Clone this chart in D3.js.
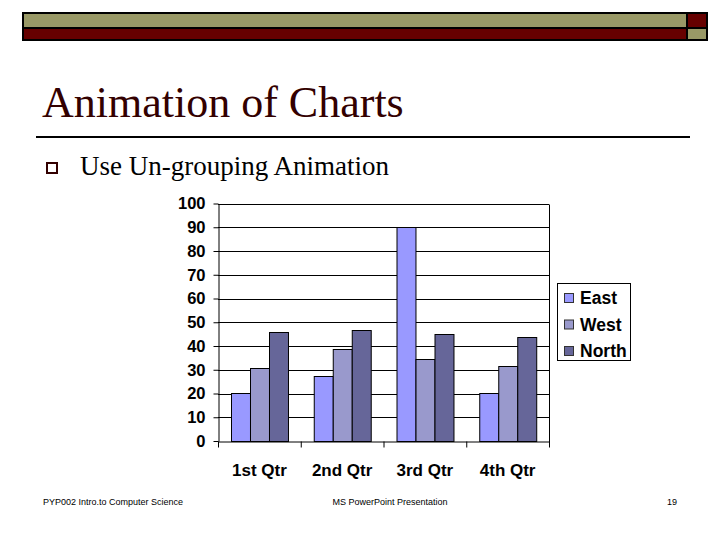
<!DOCTYPE html>
<html>
<head>
<meta charset="utf-8">
<script src="https://cdn.jsdelivr.net/npm/d3@7/dist/d3.min.js"></script>
<style>
  html, body { margin: 0; padding: 0; background: #fff; }
  svg { display: block; }
</style>
</head>
<body>
<div id="slide"></div>
<script>
// ── data ─────────────────────────────────────────
const quarters = ['1st Qtr', '2nd Qtr', '3rd Qtr', '4th Qtr'];
const seriesNames = ['East', 'West', 'North'];
const eastValues  = [20.4, 27.4, 90, 20.4];
const westValues  = [30.6, 38.6, 34.6, 31.6];
const northValues = [45.9, 46.9, 45, 43.9];
const yTicks = [0, 10, 20, 30, 40, 50, 60, 70, 80, 90, 100];

const OLIVE   = '#999966';
const MAROON  = '#660000';
const TITLE_C = '#330000';
const COLORS  = ['#9999FF', '#9999CC', '#666699'];

const W = 720, H = 540;
const svg = d3.select('#slide').append('svg')
  .attr('width', W).attr('height', H)
  .attr('viewBox', `0 0 ${W} ${H}`);

// ── slide decoration ──────────────────────────────
const deco = svg.append('g').attr('stroke', '#000').attr('stroke-width', 2);
deco.append('rect').attr('x', 23).attr('y', 13).attr('width', 664).attr('height', 15).attr('fill', OLIVE);
deco.append('rect').attr('x', 687).attr('y', 13).attr('width', 20).attr('height', 15).attr('fill', MAROON);
deco.append('rect').attr('x', 23).attr('y', 28).attr('width', 664).attr('height', 12).attr('fill', MAROON);
deco.append('rect').attr('x', 687).attr('y', 28).attr('width', 20).attr('height', 12).attr('fill', OLIVE);

svg.append('text')
  .attr('x', 42).attr('y', 117)
  .attr('font-family', '"Liberation Serif", "Times New Roman", serif')
  .attr('font-size', 44)
  .attr('fill', TITLE_C)
  .text('Animation of Charts');

svg.append('line')
  .attr('x1', 36).attr('x2', 690).attr('y1', 137).attr('y2', 137)
  .attr('stroke', '#000').attr('stroke-width', 2);

svg.append('rect')
  .attr('x', 47).attr('y', 163).attr('width', 10).attr('height', 10)
  .attr('fill', 'none').attr('stroke', TITLE_C).attr('stroke-width', 2);

svg.append('text')
  .attr('x', 80).attr('y', 175)
  .attr('font-family', '"Liberation Serif", "Times New Roman", serif')
  .attr('font-size', 27)
  .attr('fill', '#000')
  .text('Use Un-grouping Animation');

// ── chart ─────────────────────────────────────────
const plot = { left: 218, right: 549, top: 203.5, bottom: 441 };

const x = d3.scaleBand().domain(quarters).range([plot.left, plot.right]).paddingInner(0).paddingOuter(0);
const xs = d3.scaleBand().domain(seriesNames).range([0, x.bandwidth()]).paddingInner(0).paddingOuter(0.68);
const y = d3.scaleLinear().domain([0, 100]).range([plot.bottom, plot.top]);

const chart = svg.append('g');

// gridlines
chart.append('g')
  .selectAll('line')
  .data(yTicks.filter(d => d > 0))
  .join('line')
    .attr('x1', plot.left).attr('x2', plot.right)
    .attr('y1', d => Math.round(y(d)) + 0.5).attr('y2', d => Math.round(y(d)) + 0.5)
    .attr('stroke', '#000').attr('stroke-width', 1);

// right border of plot area
chart.append('line')
  .attr('x1', plot.right + 0.5).attr('x2', plot.right + 0.5)
  .attr('y1', Math.round(plot.top) + 0.5).attr('y2', plot.bottom + 6)
  .attr('stroke', '#000');

// bars
const rows = quarters.map((q, i) => ({
  q, vals: [eastValues[i], westValues[i], northValues[i]]
}));

chart.append('g')
  .selectAll('g')
  .data(rows)
  .join('g')
    .attr('transform', d => `translate(${x(d.q)},0)`)
  .selectAll('rect')
  .data(d => d.vals.map((v, j) => ({ name: seriesNames[j], v, j })))
  .join('rect')
    .attr('x', d => Math.round(xs(d.name)) + 0.5)
    .attr('y', d => Math.round(y(d.v)) + 0.5)
    .attr('width', xs.bandwidth())
    .attr('height', d => plot.bottom - Math.round(y(d.v)))
    .attr('fill', d => COLORS[d.j])
    .attr('stroke', '#000').attr('stroke-width', 1);

// y axis
const yAxis = chart.append('g')
  .attr('transform', `translate(${plot.left + 0.5},0)`)
  .call(d3.axisLeft(y).tickValues(yTicks).tickSize(5).tickPadding(8).tickSizeOuter(0));
yAxis.select('.domain').attr('stroke', '#000');
yAxis.selectAll('.tick line').attr('stroke', '#000');
yAxis.selectAll('.tick text')
  .attr('font-family', '"Liberation Sans", Arial, sans-serif')
  .attr('font-weight', 'bold')
  .attr('font-size', 16.5)
  .attr('fill', '#000');

// x axis
const xAxis = chart.append('g')
  .attr('transform', `translate(0,${plot.bottom + 0.5})`)
  .call(d3.axisBottom(x).tickSize(0).tickPadding(22).tickSizeOuter(0));
xAxis.select('.domain').attr('stroke', '#000');
xAxis.selectAll('.tick text')
  .attr('font-family', '"Liberation Sans", Arial, sans-serif')
  .attr('font-weight', 'bold')
  .attr('font-size', 17)
  .attr('fill', '#000');
xAxis.append('g')
  .selectAll('line')
  .data(quarters.concat(['end']))
  .join('line')
    .attr('x1', d => (d === 'end' ? plot.right : x(d)) + 0.5)
    .attr('x2', d => (d === 'end' ? plot.right : x(d)) + 0.5)
    .attr('y1', 0).attr('y2', 6)
    .attr('stroke', '#000');

// legend
const legend = svg.append('g').attr('transform', 'translate(557,283)');
legend.append('rect')
  .attr('x', 0.5).attr('y', 0.5).attr('width', 73).attr('height', 77)
  .attr('fill', '#fff').attr('stroke', '#000');
const item = legend.selectAll('g.item')
  .data(seriesNames)
  .join('g').attr('class', 'item')
    .attr('transform', (d, i) => `translate(0,${15 + i * 26.5})`);
item.append('rect')
  .attr('x', 7.5).attr('y', -4.5).attr('width', 9).attr('height', 9)
  .attr('fill', (d, i) => COLORS[i]).attr('stroke', '#333');
item.append('text')
  .attr('x', 23).attr('y', 0).attr('dy', '0.36em')
  .attr('font-family', '"Liberation Sans", Arial, sans-serif')
  .attr('font-weight', 'bold')
  .attr('font-size', 17.5)
  .attr('fill', '#000')
  .text(d => d);

// footer
const foot = svg.append('g')
  .attr('font-family', '"Liberation Sans", Arial, sans-serif')
  .attr('font-size', 9).attr('fill', '#000');
foot.append('text').attr('x', 43).attr('y', 505).text('PYP002 Intro.to Computer Science');
foot.append('text').attr('x', 390).attr('y', 505).attr('text-anchor', 'middle').text('MS PowerPoint Presentation');
foot.append('text').attr('x', 677).attr('y', 505).attr('text-anchor', 'end').text('19');
</script>
</body>
</html>
